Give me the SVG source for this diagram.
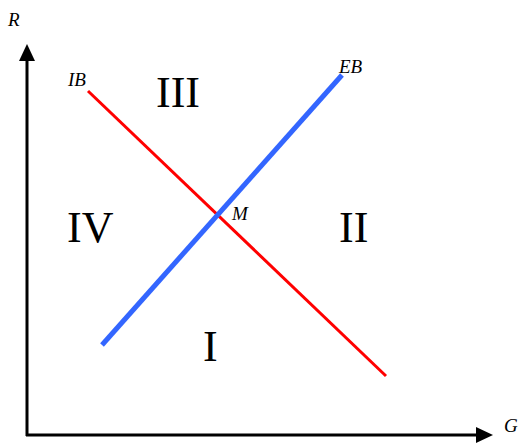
<svg xmlns="http://www.w3.org/2000/svg" width="523" height="445" viewBox="0 0 523 445">
<style>
.lbl{font-family:"Liberation Serif",serif;font-style:italic;font-size:19px;fill:#000}
.rom{font-family:"Liberation Serif",serif;font-size:44px;fill:#000}
.axis{stroke:#000;stroke-width:3;fill:none}
</style>
<rect width="523" height="445" fill="#fff"/>
<g id="connectors">
<line class="axis" x1="27" y1="436" x2="27" y2="58"/>
<polygon points="27,44 19,61 35,61" fill="#000"/>
<line class="axis" x1="26" y1="435" x2="478" y2="435"/>
<polygon points="493,435 476,427 476,443" fill="#000"/>
<line x1="88" y1="91" x2="386" y2="376" stroke="#ff0000" stroke-width="3"/>
<line x1="102" y1="345" x2="342" y2="75" stroke="#3366ff" stroke-width="5"/>
</g>
<g id="axis-R"><text class="lbl" x="8" y="26">R</text></g>
<g id="axis-G"><text class="lbl" x="504" y="432">G</text></g>
<g id="IB"><text class="lbl" x="68" y="86">IB</text></g>
<g id="EB"><text class="lbl" x="339" y="73">EB</text></g>
<g id="M"><text class="lbl" x="232" y="220">M</text></g>
<g id="III"><text class="rom" x="156" y="107">III</text></g>
<g id="IV"><text class="rom" x="67" y="242">IV</text></g>
<g id="II"><text class="rom" x="339" y="242">II</text></g>
<g id="I"><text class="rom" x="203" y="361">I</text></g>
</svg>
